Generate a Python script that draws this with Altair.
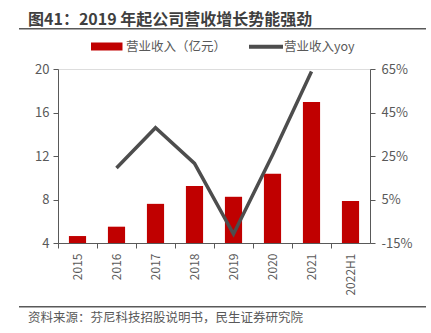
import altair as alt
import pandas as pd

years = ["2015", "2016", "2017", "2018", "2019", "2020", "2021", "2022H1"]
revenue = [4.64, 5.5, 7.6, 9.24, 8.25, 10.37, 16.97, 7.86]
yoy = [None, 19.5, 38.0, 21.6, -10.9, 25.5, 63.8, None]

title_text = "图41：2019 年起公司营收增长势能强劲"
legend_bar = "营业收入（亿元）"
legend_line = "营业收入yoy"
source_text = "资料来源：芬尼科技招股说明书，民生证券研究院"

FONT = "Noto Sans CJK SC"
AX = "#595959"

df = pd.DataFrame({"year": years, "revenue": revenue, "yoy": yoy})

x = alt.X("year:N", sort=years, title=None,
          scale=alt.Scale(paddingInner=0, paddingOuter=0),
          axis=alt.Axis(labelAngle=-90, bandPosition=0,
                        labelFont=FONT, labelFontSize=12, labelColor=AX,
                        domainColor=AX, tickColor=AX, tickSize=5,
                        labelPadding=5, grid=False))

bars = alt.Chart(df).transform_calculate(base="4").mark_bar(
    color="#C00000", width={"band": 0.44}).encode(
    x=x,
    y=alt.Y("revenue:Q", title=None,
            scale=alt.Scale(domain=[4, 20], nice=False, zero=False),
            axis=alt.Axis(values=[4, 8, 12, 16, 20], orient="left", grid=False,
                          labelFont=FONT, labelFontSize=13, labelColor=AX,
                          domainColor=AX, tickColor=AX, tickSize=5, labelPadding=4)),
    y2="base:Q",
)

line = alt.Chart(df).transform_filter("datum.yoy != null").mark_line(
    color="#4d4d4d", strokeWidth=3.5).encode(
    x=alt.X("year:N", sort=years),
    y=alt.Y("yoy:Q", title=None,
            scale=alt.Scale(domain=[-15, 65], nice=False, zero=False),
            axis=alt.Axis(values=[-15, 5, 25, 45, 65], orient="right", grid=False,
                          labelExpr="datum.value + '%'",
                          labelFont=FONT, labelFontSize=13, labelColor=AX,
                          domainColor=AX, tickColor=AX, tickSize=5, labelPadding=6)),
)

one = alt.Data(values=[{}])

def txt(s, xv, yv, size, color, weight="normal", baseline="alphabetic"):
    return alt.Chart(one).mark_text(text=s, font=FONT, fontSize=size, color=color,
                                    fontWeight=weight, align="left",
                                    baseline=baseline).encode(
        x=alt.value(xv), y=alt.value(yv))

def hrule(x1, x2, yv, color, w):
    return alt.Chart(one).mark_rule(color=color, strokeWidth=w).encode(
        x=alt.value(x1), x2=alt.value(x2), y=alt.value(yv))

title = txt(title_text, -30, -44, 16, "#3f3f3f", weight="bold")
title_line = hrule(-39, 368, -40.3, "#595959", 1.5)
leg_rect = alt.Chart(one).mark_rect(color="#C00000").encode(
    x=alt.value(33), x2=alt.value(64.5), y=alt.value(-26.5), y2=alt.value(-18.5))
leg_t1 = txt(legend_bar, 68, -22, 12.5, AX, baseline="middle")
leg_line = hrule(191, 225, -22.3, "#4d4d4d", 4)
leg_t2 = txt(legend_line, 226, -22, 12.5, AX, baseline="middle")
foot_line = hrule(-39, 368, 237.7, "#595959", 1.5)
foot = txt(source_text, -30, 253, 12.5, AX)

chart = alt.layer(bars, line).resolve_scale(y="independent")
chart = alt.layer(chart, title, title_line, leg_rect, leg_t1, leg_line, leg_t2,
                  foot_line, foot).properties(
    width=312, height=174,
    autosize=alt.AutoSizeParams(type="none"),
    padding={"left": 58, "top": 69, "right": 61, "bottom": 90},
).configure_view(stroke=None).configure(background="white")

chart.save("out.html", embed_options={"renderer": "svg", "actions": False})
